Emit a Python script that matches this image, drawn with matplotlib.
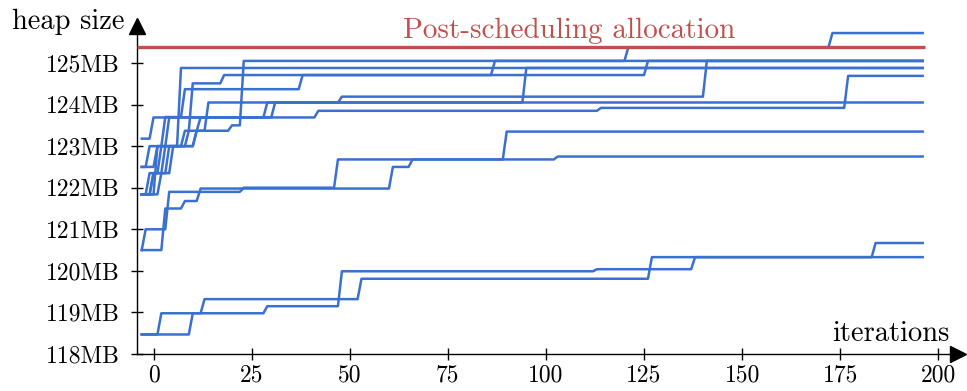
import numpy as np
import matplotlib.pyplot as plt

plt.rcParams['font.family'] = ['cmr10', 'DejaVu Serif']
plt.rcParams['axes.formatter.use_mathtext'] = True

# iterations shown on the x axis
iterations = np.arange(-3, 197)

# each run: (iteration where the heap size changes, new heap size in MB)
run_a = [(-3, 121.84), (0, 122.35), (2, 123.0), (11, 123.37), (20, 123.5), (23, 125.05), (121, 125.38), (173, 125.72)]
run_b = [(-3, 121.84), (-1, 122.35), (3, 123.0), (4, 123.69), (31, 124.05), (48, 124.19), (141, 125.05)]
run_c = [(-3, 122.5), (1, 123.0), (3, 123.7), (8, 124.37), (38, 124.71), (87, 125.05)]
run_d = [(-3, 121.84), (2, 122.35), (5, 123.0), (8, 123.37), (10, 124.51), (18, 124.71), (126, 125.05)]
run_e = [(-3, 122.5), (-1, 123.0), (7, 124.88)]
run_f = [(-3, 121.84), (1, 123.0), (9, 123.37), (12, 123.69), (29, 124.05), (95, 124.88)]
run_g = [(-3, 123.18), (0, 123.69), (42, 123.85), (114, 123.92), (177, 124.69)]
run_h = [(-3, 121.84), (0, 122.35), (4, 123.0), (11, 123.37), (14, 124.05)]
run_i = [(-3, 120.5), (-2, 121.0), (4, 121.9), (23, 122.0), (47, 122.68), (90, 123.35)]
run_j = [(-3, 120.5), (3, 121.5), (8, 121.68), (12, 121.98), (61, 122.5), (66, 122.68), (103, 122.75)]
run_k = [(-3, 118.47), (2, 118.98), (13, 119.32), (53, 119.81), (127, 120.33), (184, 120.67)]
run_l = [(-3, 118.47), (10, 118.98), (29, 119.15), (48, 119.99), (113, 120.04), (138, 120.33)]
runs = [run_a, run_b, run_c, run_d, run_e, run_f, run_g, run_h, run_i, run_j, run_k, run_l]

post_sched = 125.38
yticks = [118, 119, 120, 121, 122, 123, 124, 125]
xticks = [0, 25, 50, 75, 100, 125, 150, 175, 200]

blue = '#3a70cf'
red = '#c0504d'


def expand(changes):
    starts = np.array([c[0] for c in changes])
    vals = np.array([c[1] for c in changes])
    idx = np.searchsorted(starts, iterations, side='right') - 1
    return vals[idx]


fig = plt.figure(figsize=(9.67, 3.91), dpi=100)
ax = fig.add_axes([0.1417, 0.0946, 0.849, 0.84])

for r in runs:
    ax.plot(iterations, expand(r), color=blue, lw=1.8, zorder=2)

ax.set_xlim(-4.2, 205)
ax.set_ylim(118, 125.9)
ax.hlines(post_sched, -4.2, iterations[-1] + 0.6, color=red, lw=2.4, zorder=3)
ax.text(106, post_sched + 0.07, 'Post-scheduling allocation',
        color=red, fontsize=21, ha='center', va='bottom')

for s in ['top', 'right']:
    ax.spines[s].set_visible(False)
ax.spines['left'].set_linewidth(1.0)
ax.spines['bottom'].set_linewidth(1.0)

ax.set_xticks(xticks)
ax.set_xticklabels([str(t) for t in xticks])
ax.set_yticks(yticks)
ax.set_yticklabels([f'{t}MB' for t in yticks])
ax.tick_params(direction='inout', length=9, width=1.0, labelsize=17, pad=2)
ax.tick_params(axis='y', pad=8)
ax.tick_params(axis='x', pad=3)

# arrow heads at the ends of the axes
ax.plot(1, 0, '>k', ms=11, transform=ax.transAxes, clip_on=False)
ax.plot(0, 1, '^k', ms=11, transform=ax.transAxes, clip_on=False)

ax.text(0.99, 0.02, 'iterations', transform=ax.transAxes, ha='right', va='bottom', fontsize=20.5)
fig.text(0.012, 0.945, 'heap size', ha='left', va='center', fontsize=20.5)

fig.savefig('out.png', dpi=100)
